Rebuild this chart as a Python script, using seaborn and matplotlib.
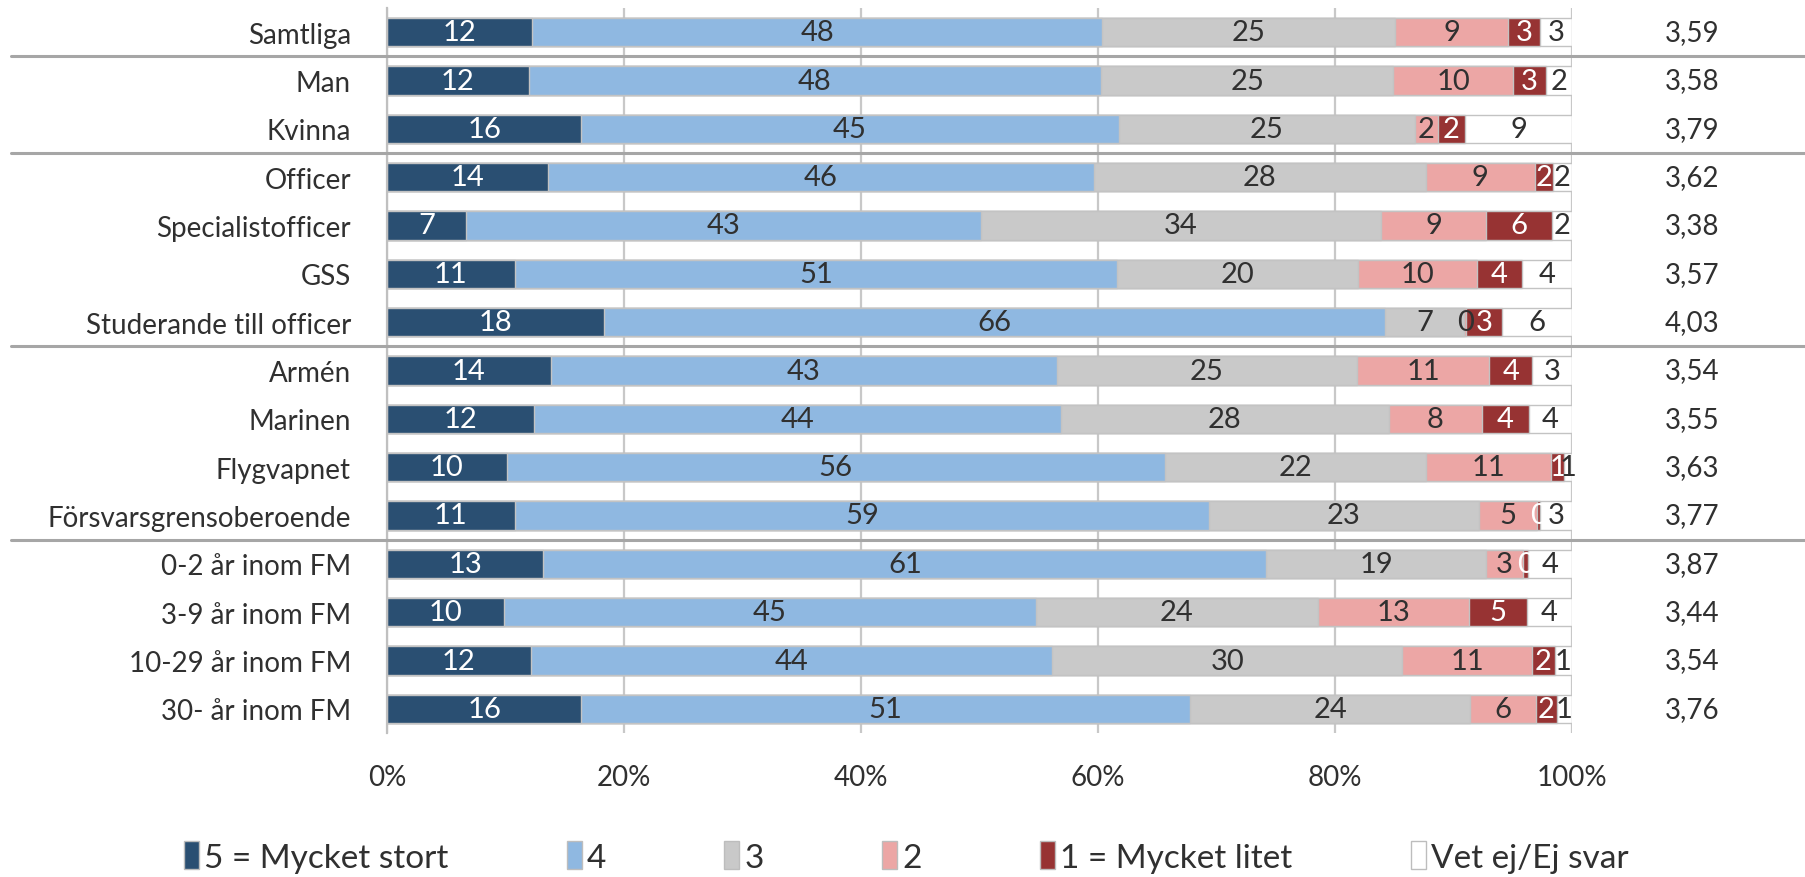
import numpy as np
import pandas as pd
import matplotlib
matplotlib.use("Agg")
import matplotlib.pyplot as plt
import matplotlib.transforms as mtransforms
from matplotlib.patches import Patch
from matplotlib.lines import Line2D
import seaborn as sns

categories = ["Samtliga", "Man", "Kvinna", "Officer", "Specialistofficer", "GSS",
              "Studerande till officer", "Armén", "Marinen", "Flygvapnet",
              "Försvarsgrensoberoende", "0-2 år inom FM", "3-9 år inom FM",
              "10-29 år inom FM", "30- år inom FM"]

series_names = ["5 = Mycket stort", "4", "3", "2", "1 = Mycket litet", "Vet ej/Ej svar"]

s5 = [12.27, 11.97, 16.4, 13.6, 6.7, 10.77, 18.33, 13.8, 12.37, 10.1, 10.8, 13.2, 9.9, 12.14, 16.39]
s4 = [48.05, 48.29, 45.35, 46.04, 43.4, 50.85, 65.91, 42.7, 44.46, 55.53, 58.59, 61.0, 44.82, 43.98, 51.38]
s3 = [24.76, 24.66, 24.95, 28.03, 33.8, 20.29, 6.63, 25.38, 27.7, 22.07, 22.71, 18.54, 23.86, 29.54, 23.6]
s2 = [9.48, 10.10, 2.0, 9.16, 8.8, 10.06, 0.2, 11.13, 7.86, 10.55, 4.9, 3.1, 12.75, 10.97, 5.6]
s1 = [2.72, 2.78, 2.24, 1.55, 5.6, 3.79, 3.0, 3.63, 3.98, 1.04, 0.3, 0.4, 4.85, 1.9, 1.74]
s0 = [2.72, 2.2, 9.06, 1.62, 1.65, 4.24, 5.93, 3.37, 3.62, 0.71, 2.7, 3.76, 3.82, 1.47, 1.29]

means = [3.59, 3.58, 3.79, 3.62, 3.38, 3.57, 4.03, 3.54, 3.55, 3.63, 3.77, 3.87, 3.44, 3.54, 3.76]

xticks = [0, 20, 40, 60, 80, 100]
xtick_labels = ["0%", "20%", "40%", "60%", "80%", "100%"]

group_breaks = [0.5, 2.5, 6.5, 10.5]

colors = ["#2a4f72", "#8fb8e1", "#c9c9c9", "#eca6a5", "#973333", "#ffffff"]
label_colors = ["white", "#303030", "#303030", "#303030", "white", "#303030"]

sns.set_theme(style="white")
plt.rcParams["font.family"] = ["Lato", "DejaVu Sans"]

fig = plt.figure(figsize=(18.05, 8.78), dpi=100)
ax = fig.add_axes([0.2144, 1 - 734 / 878, 0.871 - 0.2144, (734 - 9) / 878])

data = np.array([s5, s4, s3, s2, s1, s0])
cum = np.cumsum(data, axis=0)

for k in range(5, -1, -1):
    df = pd.DataFrame({"cat": categories, "val": cum[k]})
    sns.barplot(data=df, x="val", y="cat", order=categories, color=colors[k],
                saturation=1, width=0.58, edgecolor="#c3c3c3", linewidth=1.0,
                ax=ax, zorder=2)

ax.set_xlim(0, 100)
ax.set_ylim(14.5, -0.5)
ax.set_xlabel("")
ax.set_ylabel("")

# data labels
for i in range(len(categories)):
    left = 0.0
    for k in range(6):
        v = data[k, i]
        ax.text(left + v / 2, i, f"{v:.0f}", ha="center", va="center",
                fontsize=21, color=label_colors[k], zorder=5)
        left += v
    ax.text(110.1, i, f"{means[i]:.2f}".replace(".", ","), ha="center", va="center",
            fontsize=20, color="#303030", clip_on=False)

ax.set_xticks(xticks)
ax.set_xticklabels(xtick_labels, fontsize=20, color="#303030")
ax.tick_params(axis="x", length=0, pad=22)
ax.tick_params(axis="y", length=0, pad=26, labelsize=20, labelcolor="#303030")
ax.xaxis.grid(True, color="#c8c8c8", linewidth=1.6, zorder=0)
ax.yaxis.grid(False)
ax.set_axisbelow(True)
for name, sp in ax.spines.items():
    sp.set_visible(name == "left")
ax.spines["left"].set_color("#c0c0c0")
ax.spines["left"].set_linewidth(1.6)

# separators spanning the figure width
trans = mtransforms.blended_transform_factory(fig.transFigure, ax.transData)
for yb in group_breaks:
    fig.add_artist(Line2D([0.006, 1.0], [yb, yb], transform=trans,
                          color="#a6a6a6", linewidth=2.2, zorder=6))

handles = [Patch(facecolor=c, edgecolor="#bdbdbd", linewidth=1.0) for c in colors]
fig.legend(handles, series_names, loc="center", bbox_to_anchor=(0.502, 1 - 858 / 878),
           ncol=6, frameon=False, fontsize=24, handlelength=0.45, handleheight=0.9,
           handletextpad=0.15, columnspacing=3.55, labelcolor="#303030")

fig.savefig("out.png", dpi=100)
